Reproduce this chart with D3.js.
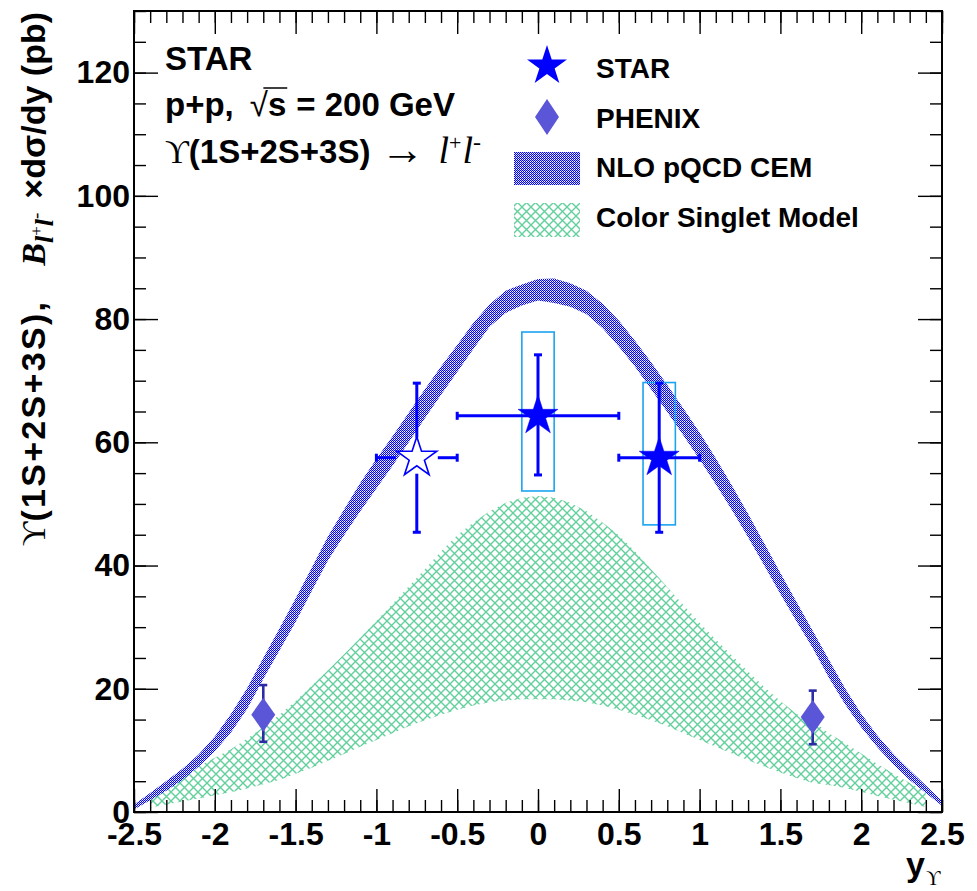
<!DOCTYPE html>
<html><head><meta charset="utf-8">
<script src="https://cdn.jsdelivr.net/npm/d3@7"></script>
<style>html,body{margin:0;padding:0;background:#fff;}</style>
</head><body>
<script>
// ---------------- DATA ----------------
const xTicksMajor = [-2.5,-2,-1.5,-1,-0.5,0,0.5,1,1.5,2,2.5];
const xTickLabels = ["-2.5","-2","-1.5","-1","-0.5","0","0.5","1","1.5","2","2.5"];
const yTicksMajor = [0,20,40,60,80,100,120];
const yTickLabels = ["0","20","40","60","80","100","120"];

// NLO pQCD CEM band
const nloRap = [-2.5,-2.4,-2.3,-2.2,-2.1,-2.0,-1.9,-1.8,-1.7,-1.6,-1.5,-1.4,-1.3,-1.2,-1.1,-1.0,-0.9,-0.8,-0.7,-0.6,-0.5,-0.4,-0.3,-0.2,-0.1,0.0,0.1,0.2,0.3,0.4,0.5,0.6,0.7,0.8,0.9,1.0,1.1,1.2,1.3,1.4,1.5,1.6,1.7,1.8,1.9,2.0,2.1,2.2,2.3,2.4,2.5];
const nloLow = [0.4,1.9,3.45,5.2,7.35,9.85,12.9,16.7,21.6,26.2,30.85,35.85,40.8,44.9,48.8,52.5,56.2,60.0,63.9,67.7,71.4,75.15,78.75,81.0,82.2,83.0,82.6,82.0,80.8,78.5,75.55,72.3,68.6,64.9,61.1,57.2,53.2,49.0,44.6,40.0,35.4,30.9,26.6,21.8,17.5,13.75,10.5,7.7,5.2,3.1,1.0];
const nloHigh = [1.2,3.1,5.05,7.0,9.35,12.25,15.9,20.1,25.0,29.8,34.65,39.65,44.7,49.1,53.4,57.3,61.0,64.8,68.6,72.3,75.8,79.35,82.35,84.6,85.6,86.5,86.6,85.8,84.6,82.5,79.75,76.5,73.0,69.3,65.5,61.6,57.4,53.0,48.4,43.6,38.8,34.1,29.4,24.7,20.1,15.95,12.4,9.4,6.8,4.3,1.8];

// Color Singlet Model band
const csmRap = [-2.4,-2.3,-2.2,-2.1,-2.0,-1.9,-1.8,-1.7,-1.6,-1.5,-1.4,-1.3,-1.2,-1.1,-1.0,-0.9,-0.8,-0.7,-0.6,-0.5,-0.4,-0.3,-0.2,-0.1,0.0,0.1,0.2,0.3,0.4,0.5,0.6,0.7,0.8,0.9,1.0,1.1,1.2,1.3,1.4,1.5,1.6,1.7,1.8,1.9,2.0,2.1,2.2,2.3,2.4];
const csmLow = [0.7,1.2,1.7,2.2,2.7,3.2,3.8,4.5,5.2,6.2,7.2,8.3,9.4,10.6,11.7,12.8,13.9,14.9,15.8,16.6,17.3,17.8,18.1,18.3,18.3,18.3,18.1,17.8,17.3,16.6,15.8,14.9,13.9,12.8,11.7,10.6,9.5,8.4,7.4,6.4,5.5,4.7,4.4,3.9,3.3,2.6,2.0,1.4,0.8];
const csmHigh = [3.0,4.5,6.0,7.4,8.8,10.2,11.9,13.8,15.8,18.0,20.5,23.0,25.6,28.3,31.0,33.8,36.6,39.4,42.3,44.9,47.0,48.8,50.2,51.0,51.3,51.0,50.2,48.8,47.0,44.9,42.3,39.4,36.5,33.6,30.7,28.0,25.4,22.8,20.3,18.0,15.9,14.8,12.8,11.2,9.5,7.8,6.2,4.7,3.3];

// STAR points
const starRap = [-0.75, 0.0, 0.75];
const starVal = [57.5, 64.3, 57.5];
const starRapErr = [0.25, 0.5, 0.25];
const starErrLow = [45.4, 54.7, 45.4];
const starErrHigh = [69.6, 74.2, 69.6];
const starSysLow = [null, 52.1, 46.6];
const starSysHigh = [null, 77.9, 69.7];
const starOpen = [true, false, false];
const sysHalfWidth = 0.1;

// PHENIX points
const phxRap = [-1.7, 1.7];
const phxVal = [15.8, 15.4];
const phxErrLow = [11.4, 11.0];
const phxErrHigh = [20.6, 19.7];

const legendLabels = ["STAR","PHENIX","NLO pQCD CEM","Color Singlet Model"];

// ---------------- LAYOUT ----------------
const W = 977, H = 891;
const L = 134, R = 942, T = 11, B = 812;
const SANS = "'Liberation Sans', Arial, Helvetica, sans-serif";
const SERIF = "'Liberation Serif', 'Times New Roman', serif";
const BLUE = "#0000ff";

const x = d3.scaleLinear().domain([-2.5, 2.5]).range([L, R]);
const y = d3.scaleLinear().domain([0, 130]).range([B, T]);

const svg = d3.select("body").append("svg").attr("width", W).attr("height", H)
  .style("display","block").style("background","#fff");
svg.append("rect").attr("width",W).attr("height",H).attr("fill","#fff");

const defs = svg.append("defs");
// NLO fine checker pattern
const pN = defs.append("pattern").attr("id","nloPat").attr("patternUnits","userSpaceOnUse")
  .attr("width",2).attr("height",2);
pN.append("rect").attr("width",2).attr("height",2).attr("fill","#ffffff");
pN.append("rect").attr("x",0).attr("y",0).attr("width",1).attr("height",1).attr("fill",BLUE);
pN.append("rect").attr("x",1).attr("y",1).attr("width",1).attr("height",1).attr("fill",BLUE);
pN.append("rect").attr("x",1).attr("y",0).attr("width",1).attr("height",1).attr("fill","#b8b8ff");
// CSM cross hatch
const hs = 9;
const pC = defs.append("pattern").attr("id","csmPat").attr("patternUnits","userSpaceOnUse")
  .attr("width",hs).attr("height",hs);
pC.append("path").attr("d",`M-1,-1L${hs+1},${hs+1}M${hs+1},-1L-1,${hs+1}`)
  .attr("stroke","#62d09c").attr("stroke-width",1.4).attr("fill","none");

const clip = defs.append("clipPath").attr("id","frameClip");
clip.append("rect").attr("x",L).attr("y",T).attr("width",R-L).attr("height",B-T);

const plot = svg.append("g").attr("clip-path","url(#frameClip)");

// CSM band
const csmData = csmRap.map((r,i)=>({r, lo:csmLow[i], hi:csmHigh[i]}));
plot.append("path").datum(csmData)
  .attr("d", d3.area().x(d=>x(d.r)).y0(d=>y(d.lo)).y1(d=>y(d.hi)))
  .attr("fill","url(#csmPat)");

// NLO band
const nloData = nloRap.map((r,i)=>({r, lo:nloLow[i], hi:nloHigh[i]}));
plot.append("path").datum(nloData)
  .attr("d", d3.area().x(d=>x(d.r)).y0(d=>y(d.lo)).y1(d=>y(d.hi)))
  .attr("fill","url(#nloPat)");

// Star path
function starPath(cx, cy, Ro) {
  const Ri = Ro * 0.382;
  let p = [];
  for (let k = 0; k < 10; k++) {
    const a = -Math.PI/2 + k*Math.PI/5;
    const rr = (k % 2 === 0) ? Ro : Ri;
    p.push([cx + rr*Math.cos(a), cy + rr*Math.sin(a)]);
  }
  return "M" + p.map(q=>q[0].toFixed(2)+","+q[1].toFixed(2)).join("L") + "Z";
}
function diamondPath(cx, cy, w, h) {
  return `M${cx},${cy-h/2}L${cx+w/2},${cy}L${cx},${cy+h/2}L${cx-w/2},${cy}Z`;
}

// STAR systematic boxes
const gData = svg.append("g");
starRap.forEach((r,i)=>{
  if (starSysLow[i] === null) return;
  gData.append("rect")
    .attr("x", x(r - sysHalfWidth)).attr("y", y(starSysHigh[i]))
    .attr("width", x(r + sysHalfWidth) - x(r - sysHalfWidth))
    .attr("height", y(starSysLow[i]) - y(starSysHigh[i]))
    .attr("fill","none").attr("stroke","#1aa4f0").attr("stroke-width",1.6);
});

// STAR error bars
const cap = 4;
starRap.forEach((r,i)=>{
  const cx = x(r), cy = y(starVal[i]);
  const gapU = starOpen[i] ? 20 : 0, gapD = starOpen[i] ? 16 : 0, gapH = starOpen[i] ? 21 : 0;
  const g = gData.append("g").attr("stroke",BLUE).attr("stroke-width",3).attr("fill","none");
  const xl = x(r - starRapErr[i]), xr = x(r + starRapErr[i]);
  const yt = y(starErrHigh[i]), yb = y(starErrLow[i]);
  g.append("line").attr("x1",xl).attr("x2",cx-gapH).attr("y1",cy).attr("y2",cy);
  g.append("line").attr("x1",cx+gapH).attr("x2",xr).attr("y1",cy).attr("y2",cy);
  g.append("line").attr("x1",cx).attr("x2",cx).attr("y1",yt).attr("y2",cy-gapU);
  g.append("line").attr("x1",cx).attr("x2",cx).attr("y1",cy+gapD).attr("y2",yb);
  g.append("line").attr("x1",xl).attr("x2",xl).attr("y1",cy-cap).attr("y2",cy+cap);
  g.append("line").attr("x1",xr).attr("x2",xr).attr("y1",cy-cap).attr("y2",cy+cap);
  g.append("line").attr("x1",cx-cap).attr("x2",cx+cap).attr("y1",yt).attr("y2",yt);
  g.append("line").attr("x1",cx-cap).attr("x2",cx+cap).attr("y1",yb).attr("y2",yb);
  gData.append("path").attr("d", starPath(cx, cy, 21))
    .attr("fill", starOpen[i] ? "#fff" : BLUE)
    .attr("stroke", BLUE).attr("stroke-width", starOpen[i] ? 1.6 : 0.5);
});

// PHENIX
phxRap.forEach((r,i)=>{
  const cx = x(r), cy = y(phxVal[i]);
  const g = gData.append("g").attr("stroke","#2b2ba6").attr("stroke-width",2.6);
  const yt = y(phxErrHigh[i]), yb = y(phxErrLow[i]);
  g.append("line").attr("x1",cx).attr("x2",cx).attr("y1",yt).attr("y2",yb);
  g.append("line").attr("x1",cx-4).attr("x2",cx+4).attr("y1",yt).attr("y2",yt);
  g.append("line").attr("x1",cx-4).attr("x2",cx+4).attr("y1",yb).attr("y2",yb);
  gData.append("path").attr("d", diamondPath(cx, cy, 24, 34)).attr("fill","#5b55d8");
});

// ---------------- AXES ----------------
const axG = svg.append("g");
function styleAxis(g) {
  g.select(".domain").remove();
  g.selectAll(".tick line").attr("stroke","#000").attr("stroke-width",1.4);
}
const xMinor = d3.range(-25, 26).map(k => k/10);
const yMinor = d3.range(0, 27).map(k => k*5);

axG.append("g").attr("transform",`translate(0,${B})`)
  .call(d3.axisBottom(x).tickValues(xMinor).tickSize(-12).tickFormat(""))
  .call(styleAxis);
axG.append("g").attr("transform",`translate(0,${B})`)
  .call(d3.axisBottom(x).tickValues(xTicksMajor).tickSize(-23).tickPadding(10)
     .tickFormat((d,i)=>xTickLabels[i]))
  .call(styleAxis)
  .call(g=>g.selectAll("text").attr("font-family",SANS).attr("font-weight","bold")
      .attr("font-size",32).attr("fill","#000"));
axG.append("g").attr("transform",`translate(0,${T})`)
  .call(d3.axisTop(x).tickValues(xMinor).tickSize(-12).tickFormat("")).call(styleAxis);
axG.append("g").attr("transform",`translate(0,${T})`)
  .call(d3.axisTop(x).tickValues(xTicksMajor).tickSize(-23).tickFormat("")).call(styleAxis);

axG.append("g").attr("transform",`translate(${L},0)`)
  .call(d3.axisLeft(y).tickValues(yMinor).tickSize(-12).tickFormat("")).call(styleAxis);
axG.append("g").attr("transform",`translate(${L},0)`)
  .call(d3.axisLeft(y).tickValues(yTicksMajor).tickSize(-24).tickPadding(4)
     .tickFormat((d,i)=>yTickLabels[i]))
  .call(styleAxis)
  .call(g=>g.selectAll("text").attr("font-family",SANS).attr("font-weight","bold")
      .attr("font-size",32).attr("fill","#000"));
axG.append("g").attr("transform",`translate(${R},0)`)
  .call(d3.axisRight(y).tickValues(yMinor).tickSize(-12).tickFormat("")).call(styleAxis);
axG.append("g").attr("transform",`translate(${R},0)`)
  .call(d3.axisRight(y).tickValues(yTicksMajor).tickSize(-24).tickFormat("")).call(styleAxis);

svg.append("rect").attr("x",L).attr("y",T).attr("width",R-L).attr("height",B-T)
  .attr("fill","none").attr("stroke","#000").attr("stroke-width",2);

// ---------------- TEXT ----------------
function seq(g, x0, yb, parts) {
  let cx = x0; const out = [];
  parts.forEach(p=>{
    cx += (p.gap || 0);
    const t = g.append("text").attr("x", cx).attr("y", yb + (p.dy||0)).text(p.t)
      .attr("font-family", p.serif ? SERIF : SANS)
      .attr("font-weight", p.w || "bold")
      .attr("font-style", p.it ? "italic" : "normal")
      .attr("font-size", p.fs).attr("fill","#000");
    const w = t.node().getComputedTextLength();
    out.push({x:cx, w});
    cx += w;
  });
  return out;
}
const tg = svg.append("g");
const FS = 33;
seq(tg, 165, 70, [{t:"STAR", fs:FS}]);
const l2 = seq(tg, 165, 116, [
  {t:"p+p,", fs:FS},
  {t:"\u221A", fs:FS, w:"normal", gap:16},
  {t:"s", fs:FS},
  {t:"= 200 GeV", fs:FS, gap:10}
]);
tg.append("line").attr("x1", l2[1].x + l2[1].w*0.75).attr("x2", l2[2].x + l2[2].w + 1)
  .attr("y1", 88).attr("y2", 88).attr("stroke","#000").attr("stroke-width",1.5);
seq(tg, 165, 163, [
  {t:"\u03D2", fs:FS, w:"normal", serif:true},
  {t:"(1S+2S+3S)", fs:FS},
  {t:"\u2192", fs:44, w:"normal", serif:true, gap:10, dy:1},
  {t:"l", fs:38, w:"normal", serif:true, it:true, gap:14},
  {t:"+", fs:22, w:"normal", serif:true, dy:-13},
  {t:"l", fs:38, w:"normal", serif:true, it:true, gap:1},
  {t:"-", fs:24, w:"normal", serif:true, dy:-13}
]);

// Legend
const lg = svg.append("g");
const legX = 547, legTextX = 596;
const legY = [68, 117, 168, 219];
lg.append("path").attr("d", starPath(legX, legY[0]-2, 21)).attr("fill", BLUE);
lg.append("path").attr("d", diamondPath(legX, legY[1], 24, 36)).attr("fill","#5b55d8");
lg.append("rect").attr("x",514).attr("y",152).attr("width",66).attr("height",33).attr("fill","url(#nloPat)");
lg.append("rect").attr("x",514).attr("y",203).attr("width",66).attr("height",34).attr("fill","url(#csmPat)");
const legBase = [78, 128, 177, 227];
legendLabels.forEach((s,i)=>{
  lg.append("text").attr("x",legTextX).attr("y",legBase[i]).text(s)
    .attr("font-family",SANS).attr("font-weight","bold").attr("font-size",28).attr("fill","#000");
});

// Y axis title
const yt = svg.append("text").attr("transform","translate(45,12) rotate(-90)")
  .attr("text-anchor","end").attr("font-size",34).attr("fill","#000");
yt.append("tspan").text("\u03D2").attr("font-family",SERIF).attr("font-weight","normal");
yt.append("tspan").text("(1S+2S+3S),").attr("font-family",SANS).attr("font-weight","bold")
  .attr("letter-spacing","2.3px");
yt.append("tspan").text("B").attr("dx",34).attr("font-family",SERIF).attr("font-weight","bold").attr("font-style","italic");
yt.append("tspan").text("l").attr("font-family",SERIF).attr("font-style","italic").attr("font-weight","bold")
  .attr("font-size",26).attr("dy",8);
yt.append("tspan").text("+").attr("font-family",SERIF).attr("font-size",17).attr("dy",-11);
yt.append("tspan").text("l").attr("font-family",SERIF).attr("font-style","italic").attr("font-weight","bold")
  .attr("font-size",26).attr("dy",11);
yt.append("tspan").text("-").attr("font-family",SERIF).attr("font-size",19).attr("dy",-11);
yt.append("tspan").text("\u00D7d\u03C3/dy (pb)").attr("dx",14).attr("font-family",SANS).attr("font-weight","bold").attr("dy",3);

// X axis title
const xtG = svg.append("g");
xtG.append("text").attr("x",925).attr("y",876).attr("text-anchor","end").text("y")
  .attr("font-family",SANS).attr("font-weight","bold").attr("font-size",34).attr("fill","#000");
xtG.append("text").attr("x",926).attr("y",885).text("\u03D2")
  .attr("font-family",SERIF).attr("font-size",20).attr("fill","#000");
</script>
</body></html>
